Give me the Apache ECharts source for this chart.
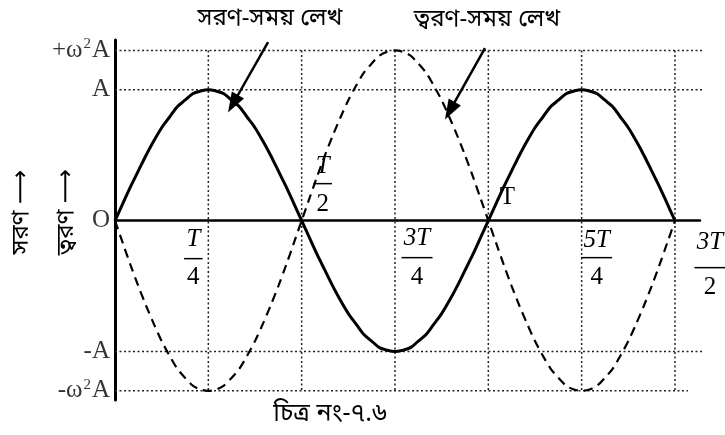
<!DOCTYPE html>
<html>
<head>
<meta charset="utf-8">
<script src="https://cdn.jsdelivr.net/npm/echarts@6/dist/echarts.min.js"></script>
<style>
  html, body { margin: 0; padding: 0; background: #fff; }
  #main { width: 725px; height: 435px; }
</style>
</head>
<body>
<div id="main"></div>
<script>
// সময় (T এর ভগ্নাংশ), T/48 ধাপে
var TIME = [0, 0.0208, 0.0417, 0.0625, 0.0833, 0.1042, 0.125, 0.1458, 0.1667, 0.1875, 0.2083, 0.2292,
            0.25, 0.2708, 0.2917, 0.3125, 0.3333, 0.3542, 0.375, 0.3958, 0.4167, 0.4375, 0.4583, 0.4792,
            0.5, 0.5208, 0.5417, 0.5625, 0.5833, 0.6042, 0.625, 0.6458, 0.6667, 0.6875, 0.7083, 0.7292,
            0.75, 0.7708, 0.7917, 0.8125, 0.8333, 0.8542, 0.875, 0.8958, 0.9167, 0.9375, 0.9583, 0.9792,
            1, 1.0208, 1.0417, 1.0625, 1.0833, 1.1042, 1.125, 1.1458, 1.1667, 1.1875, 1.2083, 1.2292,
            1.25, 1.2708, 1.2917, 1.3125, 1.3333, 1.3542, 1.375, 1.3958, 1.4167, 1.4375, 1.4583, 1.4792, 1.5];
// সরণ (A এর এককে)
var DISP = [0, 0.13, 0.26, 0.38, 0.5, 0.61, 0.71, 0.79, 0.87, 0.92, 0.97, 0.99,
            1, 0.99, 0.97, 0.92, 0.87, 0.79, 0.71, 0.61, 0.5, 0.38, 0.26, 0.13,
            0, -0.13, -0.26, -0.38, -0.5, -0.61, -0.71, -0.79, -0.87, -0.92, -0.97, -0.99,
            -1, -0.99, -0.97, -0.92, -0.87, -0.79, -0.71, -0.61, -0.5, -0.38, -0.26, -0.13,
            0, 0.13, 0.26, 0.38, 0.5, 0.61, 0.71, 0.79, 0.87, 0.92, 0.97, 0.99,
            1, 0.99, 0.97, 0.92, 0.87, 0.79, 0.71, 0.61, 0.5, 0.38, 0.26, 0.13, 0];
// ত্বরণ (ω²A ≈ 1.3 A)
var ACC = [0, -0.17, -0.34, -0.5, -0.65, -0.79, -0.92, -1.03, -1.13, -1.2, -1.26, -1.29,
           -1.3, -1.29, -1.26, -1.2, -1.13, -1.03, -0.92, -0.79, -0.65, -0.5, -0.34, -0.17,
           0, 0.17, 0.34, 0.5, 0.65, 0.79, 0.92, 1.03, 1.13, 1.2, 1.26, 1.29,
           1.3, 1.29, 1.26, 1.2, 1.13, 1.03, 0.92, 0.79, 0.65, 0.5, 0.34, 0.17,
           0, -0.17, -0.34, -0.5, -0.65, -0.79, -0.92, -1.03, -1.13, -1.2, -1.26, -1.29,
           -1.3, -1.29, -1.26, -1.2, -1.13, -1.03, -0.92, -0.79, -0.65, -0.5, -0.34, -0.17, 0];

// x অক্ষের চিহ্ন
var X_TICKS = [0.25, 0.5, 0.75, 1, 1.25, 1.5];
var X_NUM = ['T', 'T', '3T', 'T', '5T', '3T'];
var X_DEN = ['4', '2', '4', '', '4', '2'];

// y অক্ষের চিহ্ন
var Y_TICKS = [1.3, 1, 0, -1, -1.3];
var Y_LABELS = ['{t|+ω}{s|2}{t|A}', '{t|A}', '{t|O}', '{t|-A}', '{t|-ω}{s|2}{t|A}'];

// ডটেড গ্রিড লাইন
var H_LINES = [1.3, 1, -1, -1.3];
var H_ENDS = [1.602, 1.602, 1.602, 1.535];
var V_LINES = [0.25, 0.5, 0.75, 1, 1.25, 1.5];

// লেবেল বসানোর অফসেট (পিক্সেল): dx, numerator dy, bar dy, denominator dy
var TICK_OFFS = [
  [-15, 19, 38, 57],
  [21, -54, -37, -16],
  [22, 18, 37, 57],
  [19, -23, 0, 0],
  [15, 20, 37, 57],
  [35, 22, 47, 67]
];

var serif = '"Liberation Serif", "DejaVu Serif", serif';
var bn = '"Noto Sans Bengali", "Noto Sans", "DejaVu Sans", sans-serif';

var gridSeries = [];
H_LINES.forEach(function (v, i) {
  gridSeries.push({
    type: 'line', silent: true, symbol: 'none', clip: false,
    data: [[0, v], [H_ENDS[i], v]],
    lineStyle: { color: '#222', width: 1.5, type: [2, 2.5] }
  });
});
V_LINES.forEach(function (v) {
  gridSeries.push({
    type: 'line', silent: true, symbol: 'none', clip: false,
    data: [[v, 1.3], [v, -1.3]],
    lineStyle: { color: '#222', width: 1.5, type: [2, 2.5] }
  });
});

function bnText(x, y, txt, size, rot) {
  return {
    type: 'text', x: x, y: y, rotation: rot || 0,
    style: { text: txt, font: size + 'px ' + bn, fill: '#000', align: 'center', verticalAlign: 'middle' }
  };
}

var option = {
  backgroundColor: '#fff',
  animation: false,
  grid: { left: 115, top: 40, width: 585, height: 360 },
  xAxis: {
    type: 'value', min: 0, max: 1.567,
    axisLine: { onZero: true, lineStyle: { color: '#000', width: 2.5 } },
    axisTick: { show: false }, axisLabel: { show: false }, splitLine: { show: false }
  },
  yAxis: {
    type: 'value', min: -1.37, max: 1.38,
    axisLine: { show: true, onZero: false, lineStyle: { color: '#000', width: 3 } },
    axisTick: { show: false }, axisLabel: { show: false }, splitLine: { show: false }
  },
  graphic: [
    bnText(270, 20, 'সরণ-সময় লেখ', 24),
    bnText(487, 21, 'ত্বরণ-সময় লেখ', 24),
    bnText(330, 416, 'চিত্র নং-৭.৬', 25),
    bnText(23, 212, 'সরণ ⟶', 24, Math.PI / 2),
    bnText(68, 212, 'ত্বরণ ⟶', 24, Math.PI / 2)
  ],
  series: gridSeries.concat([
    {
      name: 'সরণ', type: 'line', symbol: 'none', silent: true, smooth: 0.3,
      data: TIME.map(function (t, i) { return [t, DISP[i]]; }),
      lineStyle: { color: '#000', width: 3 },
      markLine: {
        silent: true, symbol: ['none', 'triangle'], symbolSize: [14, 20],
        label: { show: false },
        lineStyle: { color: '#000', width: 2.5, type: 'solid' },
        data: [
          [{ coord: [0.41, 1.364] }, { coord: [0.316, 0.893] }],
          [{ coord: [0.991, 1.318] }, { coord: [0.897, 0.84] }]
        ]
      }
    },
    {
      name: 'ত্বরণ', type: 'line', symbol: 'none', silent: true, smooth: 0.3,
      data: TIME.map(function (t, i) { return [t, ACC[i]]; }),
      lineStyle: { color: '#000', width: 2.2, type: [9, 6] }
    },
    {
      type: 'scatter', silent: true, symbolSize: 0,
      data: Y_TICKS.map(function (v) { return [0, v]; }),
      label: {
        show: true, position: 'left', distance: 5,
        formatter: function (p) { return Y_LABELS[p.dataIndex]; },
        rich: {
          t: { fontFamily: serif, fontSize: 25, color: '#000' },
          s: { fontFamily: serif, fontSize: 15, color: '#000', padding: [0, 1, 12, 1] }
        }
      }
    },
    {
      type: 'custom', silent: true,
      data: X_TICKS.map(function (v, i) { return [v, i]; }),
      renderItem: function (params, api) {
        var i = api.value(1);
        var p = api.coord([api.value(0), 0]);
        var o = TICK_OFFS[i];
        var cx = p[0] + o[0];
        var num = X_NUM[i], den = X_DEN[i];
        if (!den) {
          return {
            type: 'text', x: cx, y: p[1] + o[1],
            style: { text: num, font: '25px ' + serif, fill: '#000', align: 'center', verticalAlign: 'middle' }
          };
        }
        var w = 6 + 12.5 * num.length;
        return {
          type: 'group',
          children: [
            { type: 'text', x: cx, y: p[1] + o[1], style: { text: num, font: 'italic 25px ' + serif, fill: '#000', align: 'center', verticalAlign: 'middle' } },
            { type: 'line', shape: { x1: cx - w / 2, y1: p[1] + o[2], x2: cx + w / 2, y2: p[1] + o[2] }, style: { stroke: '#000', lineWidth: 1.5 } },
            { type: 'text', x: cx, y: p[1] + o[3], style: { text: den, font: '25px ' + serif, fill: '#000', align: 'center', verticalAlign: 'middle' } }
          ]
        };
      }
    }
  ])
};

var chart = echarts.init(document.getElementById('main'));
chart.setOption(option);
</script>
</body>
</html>
